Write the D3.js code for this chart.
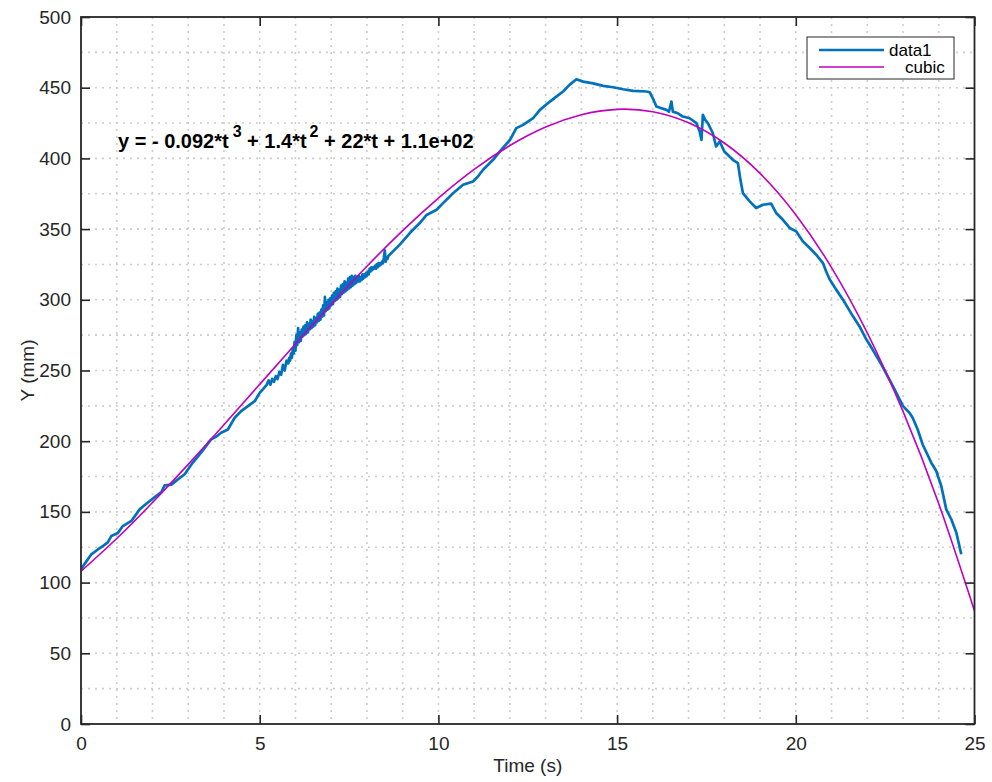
<!DOCTYPE html>
<html>
<head>
<meta charset="UTF-8" />
<title>Cubic fit</title>
<script src="https://d3js.org/d3.v7.min.js"></script>
<style>
  body { margin: 0; background: #fff; }
  svg { font-family: "Liberation Sans", Arial, sans-serif; }
  .grid line { stroke: #cdcdcd; stroke-width: 1.6; stroke-dasharray: 2,5; }
  .axis path, .axis line { stroke: #262626; stroke-width: 1.6; }
  .axis text { fill: #262626; font-size: 19px; }
</style>
</head>
<body>
<svg width="992" height="782"></svg>
<script>
  // measured data (Time s, Y mm)
  const data1 = [
    [0.00,109.5],[0.15,115],[0.29,120],[0.48,123.6],[0.62,126],[0.75,128.5],[0.85,133],[1.03,135],
    [1.17,140],[1.41,143.6],[1.64,151.8],[1.87,156.6],[2.10,161.2],[2.25,164],[2.34,168.8],[2.53,169.3],
    [2.71,173],[2.90,176.6],[3.09,183.6],[3.36,191.9],[3.64,201.3],[3.80,203.5],[3.92,206],[4.11,208.3],
    [4.30,216.6],[4.48,221.3],[4.67,224.8],[4.86,228.3],[5.00,234.2],[5.10,237],
    [5.20,240],[5.25,243],[5.30,240],[5.35,244],[5.40,242],[5.45,246],[5.50,244],[5.55,249],[5.60,247],
    [5.65,254],[5.70,250],[5.75,257],
    [5.800,255],[5.825,259],[5.850,257],[5.875,262],[5.900,259],[5.925,265],[5.950,262],[5.975,270],
    [6.000,264],[6.025,275],[6.050,268],[6.075,280],[6.100,270],[6.125,277],[6.150,271],[6.175,279],
    [6.200,274],[6.225,281],[6.250,275],[6.275,282],[6.300,276],[6.325,284],[6.350,277],[6.375,283],
    [6.400,279],[6.425,286],[6.450,280],[6.475,285],[6.500,281],[6.525,288],[6.550,282],[6.575,287],
    [6.600,284],[6.625,290],[6.650,285],[6.675,291],[6.700,286],[6.725,293],[6.750,288],[6.775,296],
    [6.800,289],[6.825,302],[6.850,292],[6.875,298],[6.900,293],[6.925,300],[6.950,294],[6.975,301],
    [7.000,296],[7.025,303],[7.050,297],[7.075,305],[7.100,299],[7.125,306],[7.150,300],[7.175,308],
    [7.200,301],[7.225,307],[7.250,302],[7.275,310],[7.300,304],[7.325,311],[7.350,305],[7.375,313],
    [7.400,306],[7.425,312],[7.450,307],[7.475,315],[7.500,308],[7.525,316],[7.550,309],[7.575,317],
    [7.600,310],[7.625,316],[7.650,311],[7.675,317],[7.700,312],[7.725,316],[7.750,313],[7.775,317],
    [7.800,313],[7.825,316],[7.850,314],[7.875,318],[7.900,315],[7.925,318],[7.950,316],[7.975,319],
    [8.000,317],[8.025,320],[8.050,318],[8.075,322],[8.100,320],[8.125,323],[8.150,321],[8.175,323],
    [8.200,322],[8.225,324],[8.250,322],[8.275,325],[8.300,323],[8.325,326],[8.350,324],[8.375,326],
    [8.400,325],[8.425,327],[8.450,326],[8.475,330],[8.500,335],[8.525,327],[8.550,330],[8.575,329],
    [8.600,331],
    [8.92,339],[9.20,347.2],[9.48,354.3],[9.67,360],[9.95,363.7],[10.13,368.4],[10.41,375.4],[10.69,381.4],
    [10.97,383.7],[11.10,387],[11.25,392],[11.44,396.7],[11.53,399],[11.72,405],[12.00,413],[12.18,421.4],
    [12.37,423.7],[12.65,428.4],[12.84,434.3],[13.12,440.2],[13.30,443.7],[13.49,447.3],[13.67,452],
    [13.86,456],[14.05,454.3],[14.33,453.1],[14.61,451.3],[14.89,450.3],[15.17,448.9],[15.45,447.7],
    [15.82,447.3],[15.91,446.8],[16.00,442.5],[16.10,436.7],[16.24,435.5],[16.38,434.3],[16.45,433],
    [16.52,440.2],[16.56,433.1],[16.70,431.9],[16.84,429.6],[17.03,428.4],[17.22,424.9],[17.31,419],
    [17.36,413.1],[17.40,430.8],[17.47,427],[17.54,424.9],[17.68,417.8],[17.77,408.4],[17.87,412],
    [18.00,404.9],[18.24,399],[18.38,396.6],[18.45,385],[18.52,375.5],[18.71,369.6],[18.89,364.9],
    [19.08,367.2],[19.31,368],[19.45,361.4],[19.64,356.6],[19.83,350.8],[20.01,348.4],[20.20,341.3],
    [20.39,336.6],[20.57,331.9],[20.76,326],[20.85,320],[20.95,314.3],[21.13,307.2],[21.32,300.1],
    [21.60,288.3],[21.78,281.3],[21.95,273],[22.15,264.8],[22.40,254],[22.62,243.6],[22.81,234.3],
    [23.00,224.8],[23.18,220.1],[23.27,216.6],[23.41,208.3],[23.55,197.7],[23.79,184.8],[23.93,178.9],
    [24.07,168.3],[24.21,151.8],[24.35,144.8],[24.49,135.4],[24.63,120]
  ];

  // cubic fit curve, read at whole seconds
  const fitT = [0,1,2,3,4,5,6,7,8,9,10,11,12,13,14,15,16,17,18,19,20,21,22,23,24,25];
  const fitY = [108,131.2,156.6,183.6,211.6,240.2,268.8,296.8,323.7,348.9,371.9,392.2,409.1,
                422.2,430.9,434.7,433.0,425.2,410.9,389.4,360.2,322.8,276.6,221.1,155.8,80];

  const xTicks = [0,5,10,15,20,25];
  const yTicks = [0,50,100,150,200,250,300,350,400,450,500];
  const legendNames = ["data1", "cubic"];
  const colors = ["#0072bd", "#c000c0"];

  const svg = d3.select("svg");
  const m = {left: 81, right: 974.5, top: 17, bottom: 724};

  const x = d3.scaleLinear().domain([0, 25]).range([m.left, m.right]);
  const y = d3.scaleLinear().domain([0, 500]).range([m.bottom, m.top]);

  // grid (major + minor, all dotted)
  const grid = svg.append("g").attr("class", "grid");
  grid.selectAll(".gx").data(d3.range(1, 25)).join("line")
    .attr("x1", d => x(d)).attr("x2", d => x(d))
    .attr("y1", m.top).attr("y2", m.bottom);
  grid.selectAll(".gy").data(d3.range(25, 500, 25)).join("line")
    .attr("y1", d => y(d)).attr("y2", d => y(d))
    .attr("x1", m.left).attr("x2", m.right);

  svg.append("clipPath").attr("id", "clip")
    .append("rect").attr("x", m.left).attr("y", m.top)
    .attr("width", m.right - m.left).attr("height", m.bottom - m.top);

  const plot = svg.append("g").attr("clip-path", "url(#clip)");

  plot.append("path")
    .datum(data1)
    .attr("fill", "none")
    .attr("stroke", colors[0])
    .attr("stroke-width", 2.7)
    .attr("stroke-linejoin", "round")
    .attr("d", d3.line().x(d => x(d[0])).y(d => y(d[1])));

  plot.append("path")
    .datum(fitT.map((t, i) => [t, fitY[i]]))
    .attr("fill", "none")
    .attr("stroke", colors[1])
    .attr("stroke-width", 1.6)
    .attr("d", d3.line().curve(d3.curveNatural).x(d => x(d[0])).y(d => y(d[1])));

  // axes with inward ticks on all four sides
  const tick = 9;
  svg.append("g").attr("class", "axis")
    .attr("transform", `translate(0,${m.bottom})`)
    .call(d3.axisBottom(x).tickValues(xTicks).tickSizeInner(-tick).tickSizeOuter(0).tickPadding(13));
  svg.append("g").attr("class", "axis")
    .attr("transform", `translate(0,${m.top})`)
    .call(d3.axisTop(x).tickValues(xTicks).tickSizeInner(-tick).tickSizeOuter(0).tickFormat(""));
  svg.append("g").attr("class", "axis")
    .attr("transform", `translate(${m.left},0)`)
    .call(d3.axisLeft(y).tickValues(yTicks).tickSizeInner(-tick).tickSizeOuter(0).tickPadding(10));
  svg.append("g").attr("class", "axis")
    .attr("transform", `translate(${m.right},0)`)
    .call(d3.axisRight(y).tickValues(yTicks).tickSizeInner(-tick).tickSizeOuter(0).tickFormat(""));

  svg.selectAll(".axis .domain").remove();
  svg.append("rect")
    .attr("x", m.left).attr("y", m.top)
    .attr("width", m.right - m.left).attr("height", m.bottom - m.top)
    .attr("fill", "none").attr("stroke", "#262626").attr("stroke-width", 1.8);

  // axis labels
  svg.append("text")
    .attr("x", (m.left + m.right) / 2).attr("y", 772)
    .attr("text-anchor", "middle").attr("font-size", 19).attr("fill", "#262626")
    .text("Time (s)");
  svg.append("text")
    .attr("transform", `translate(34,${(m.top + m.bottom) / 2}) rotate(-90)`)
    .attr("text-anchor", "middle").attr("font-size", 19).attr("fill", "#262626")
    .text("Y (mm)");

  // fit equation
  const eq = svg.append("text")
    .attr("x", 118).attr("y", 148)
    .attr("font-size", 20).attr("font-weight", "bold").attr("fill", "#000");
  eq.append("tspan").text("y = - 0.092*t");
  eq.append("tspan").attr("dy", -11).attr("dx", 4).attr("font-size", 16).text("3");
  eq.append("tspan").attr("dy", 11).text(" + 1.4*t");
  eq.append("tspan").attr("dy", -11).attr("dx", 3).attr("font-size", 16).text("2");
  eq.append("tspan").attr("dy", 11).text(" + 22*t + 1.1e+02");

  // legend
  const lg = svg.append("g");
  lg.append("rect")
    .attr("x", 807).attr("y", 37).attr("width", 147).attr("height", 42)
    .attr("fill", "#fff").attr("stroke", "#262626").attr("stroke-width", 1);
  const legendRows = [{y: 50, w: 2.7, tx: 889}, {y: 67, w: 1.6, tx: 905}];
  legendNames.forEach((name, i) => {
    lg.append("line")
      .attr("x1", 819).attr("x2", 884)
      .attr("y1", legendRows[i].y).attr("y2", legendRows[i].y)
      .attr("stroke", colors[i]).attr("stroke-width", legendRows[i].w);
    lg.append("text")
      .attr("x", legendRows[i].tx).attr("y", legendRows[i].y + 5.5)
      .attr("font-size", 17).attr("fill", "#000")
      .text(name);
  });
</script>
</body>
</html>
